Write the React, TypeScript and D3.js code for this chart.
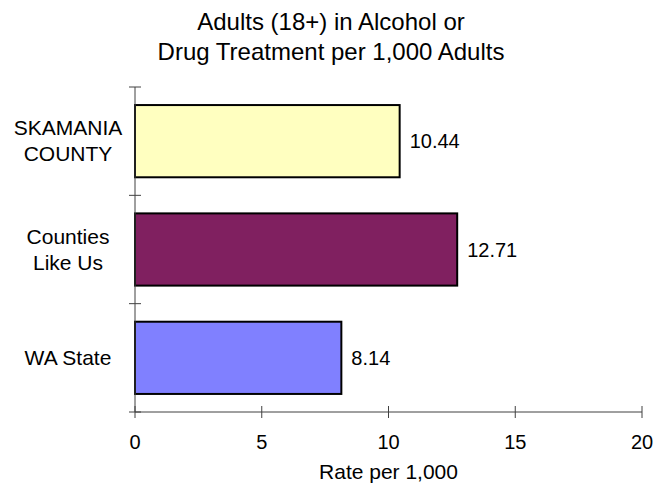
import React from "react";
import * as d3 from "d3";

const categories = ["SKAMANIA COUNTY", "Counties Like Us", "WA State"];
const categoryLines = [["SKAMANIA", "COUNTY"], ["Counties", "Like Us"], ["WA State"]];
const values = [10.44, 12.71, 8.14];
const barColors = ["#FFFFC0", "#802060", "#8080FF"];
const xTicks = [0, 5, 10, 15, 20];
const titleLines = ["Adults (18+) in Alcohol or", "Drug Treatment per 1,000 Adults"];
const xAxisTitle = "Rate per 1,000";

const W = 657;
const H = 487;
const left = 135;
const right = 642;
const top = 87;
const bottom = 412;
const font = "'Liberation Sans', Arial, Helvetica, sans-serif";
const axisColor = "#404040";

export default function App() {
  const x = d3.scaleLinear().domain([0, 20]).range([left, right]);
  const p = 1 / 3;
  const y = d3
    .scaleBand<string>()
    .domain(categories)
    .range([top, bottom])
    .paddingInner(p)
    .paddingOuter(p / 2);
  const step = y.step();
  const boundaries = d3.range(categories.length + 1).map((i) => top + i * step);

  return (
    <svg
      width={W}
      height={H}
      style={{ position: "absolute", left: 0, top: 0, background: "#fff" }}
      fontFamily={font}
    >
      {titleLines.map((t, i) => (
        <text key={i} x={331} y={30 + i * 30} textAnchor="middle" fontSize={24} fill="#000">
          {t}
        </text>
      ))}

      {categories.map((c, i) => (
        <rect
          key={c}
          x={x(0)}
          y={y(c)!}
          width={x(values[i]) - x(0)}
          height={y.bandwidth()}
          fill={barColors[i]}
          stroke="#000"
          strokeWidth={2}
        />
      ))}

      {categories.map((c, i) => (
        <text
          key={c}
          x={x(values[i]) + 10}
          y={y(c)! + y.bandwidth() / 2 + 7}
          fontSize={20}
          fill="#000"
        >
          {values[i].toFixed(2)}
        </text>
      ))}

      {categories.map((c, i) => {
        const lines = categoryLines[i];
        const cy = y(c)! + y.bandwidth() / 2;
        const lh = 26;
        const firstBaseline = cy - ((lines.length - 1) * lh) / 2 + 7;
        return (
          <text key={c} textAnchor="middle" fontSize={21} fill="#000">
            {lines.map((l, j) => (
              <tspan key={j} x={68} y={firstBaseline + j * lh}>
                {l}
              </tspan>
            ))}
          </text>
        );
      })}

      {/* y axis */}
      <line x1={left} x2={left} y1={top} y2={bottom} stroke={axisColor} strokeWidth={1} />
      {boundaries.map((b, i) => (
        <line key={i} x1={left - 6} x2={left + 6} y1={b} y2={b} stroke={axisColor} strokeWidth={1} />
      ))}

      {/* x axis */}
      <line x1={left} x2={right} y1={bottom} y2={bottom} stroke={axisColor} strokeWidth={1} />
      {xTicks.map((t) => (
        <g key={t}>
          <line x1={x(t)} x2={x(t)} y1={bottom - 6} y2={bottom + 6} stroke={axisColor} strokeWidth={1} />
          <text x={x(t)} y={449} textAnchor="middle" fontSize={20} fill="#000">
            {t}
          </text>
        </g>
      ))}

      <text x={(left + right) / 2} y={479} textAnchor="middle" fontSize={21} fill="#000">
        {xAxisTitle}
      </text>
    </svg>
  );
}
